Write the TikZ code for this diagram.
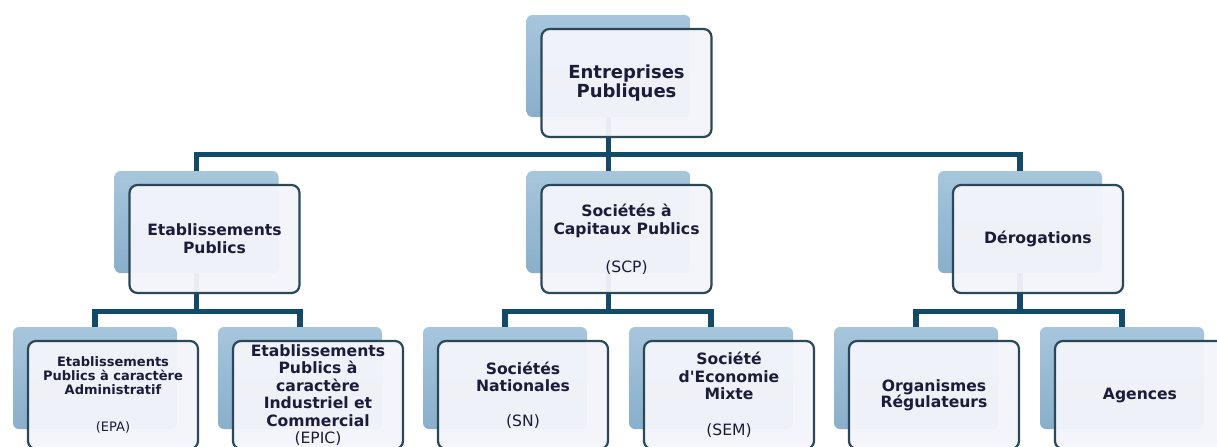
\documentclass[tikz,border=0pt]{standalone}
\usepackage{fontspec}
\setmainfont{DejaVu Sans}[Ligatures=TeXOff]
\usetikzlibrary{calc}
\definecolor{linkblue}{HTML}{124A6B}
\definecolor{backtop}{HTML}{A6C6DC}
\definecolor{backbot}{HTML}{88AFCB}
\definecolor{boxline}{HTML}{2B4858}
\definecolor{boxfill}{HTML}{F4F5FA}
\definecolor{inkblue}{HTML}{1B1B3A}
\tikzset{
  back/.style  = {top color=backtop, bottom color=backbot, rounded corners=3pt,
                  minimum width=82pt, minimum height=51pt, inner sep=0pt},
  front/.style = {draw=boxline, line width=1.1pt, fill=boxfill, fill opacity=0.95,
                  text opacity=1, rounded corners=4pt, minimum width=85pt,
                  minimum height=54pt, inner sep=0pt, align=center, text=inkblue,
                  font=\bfseries\fontsize{7.8}{9}\selectfont},
  link/.style  = {line width=2.6pt, linkblue},
}
\newcommand{\abbr}[1]{{\mdseries #1}}

\begin{document}
\begin{tikzpicture}[x=0.5pt,y=-0.5pt]
  \fill[white] (0,0) rectangle (1217,446);
  \useasboundingbox (0,0) rectangle (1217,446);
  \clip (0,0) rectangle (1217,446);
  % back plates
  \node[back] (root) at (608.5,66) {};
  \node[back] (ep)   at (196.5,222) {};
  \node[back] (scp)  at (608.5,222) {};
  \node[back] (der)  at (1020,222) {};
  \node[back] (epa)  at (95,378) {};
  \node[back] (epic) at (300,378) {};
  \node[back] (sn)   at (505,378) {};
  \node[back] (sem)  at (711,378) {};
  \node[back] (org)  at (916,378) {};
  \node[back] (ag)   at (1122,378) {};
  % connectors
  \draw[link] (root.south) -- ++(0,37) coordinate (bus0);
  \draw[link] (ep.north) |- (bus0) -| (der.north);
  \draw[link] (bus0) -- (scp.north);
  \draw[link] (ep.south) -- ++(0,38) coordinate (bus1);
  \draw[link] (epa.north) |- (bus1) -| (epic.north);
  \draw[link] (scp.south) -- ++(0,38) coordinate (bus2);
  \draw[link] (sn.north) |- (bus2) -| (sem.north);
  \draw[link] (der.south) -- ++(0,38) coordinate (bus3);
  \draw[link] (org.north) |- (bus3) -| (ag.north);
  % front boxes
  \node[front,font=\bfseries\fontsize{9}{9.5}\selectfont] (root-f) at ($(root)+(18,17)$)
      {Entreprises\\Publiques};
  \node[front] (ep-f) at ($(ep)+(18,17)$) {Etablissements\\Publics};
  \node[front] (scp-f) at ($(scp)+(18,17)$)
      {Sociétés à\\Capitaux Publics\\[10pt]\abbr{(SCP)}};
  \node[front] (der-f) at ($(der)+(18,17)$) {Dérogations};
  \node[front,font=\bfseries\fontsize{6.5}{7}\selectfont] (epa-f) at ($(epa)+(18,17)$)
      {Etablissements\\Publics à caractère\\Administratif\\[11.5pt]\abbr{(EPA)}};
  \node[front,font=\bfseries\fontsize{7.8}{8.7}\selectfont] (epic-f) at ($(epic)+(18,17)$)
      {Etablissements\\Publics à\\caractère\\Industriel et\\Commercial\\\abbr{(EPIC)}};
  \node[front,font=\bfseries\fontsize{7.8}{8.5}\selectfont] (sn-f) at ($(sn)+(18,17)$)
      {Sociétés\\Nationales\\[9pt]\abbr{(SN)}};
  \node[front,font=\bfseries\fontsize{7.8}{8.7}\selectfont] (sem-f) at ($(sem)+(18,17)$)
      {Société\\d'Economie\\Mixte\\[9.5pt]\abbr{(SEM)}};
  \node[front,font=\bfseries\fontsize{7.8}{8.2}\selectfont] (org-f) at ($(org)+(18,17)$)
      {Organismes\\Régulateurs};
  \node[front] (ag-f) at ($(ag)+(18,17)$) {Agences};
\end{tikzpicture}
\end{document}
